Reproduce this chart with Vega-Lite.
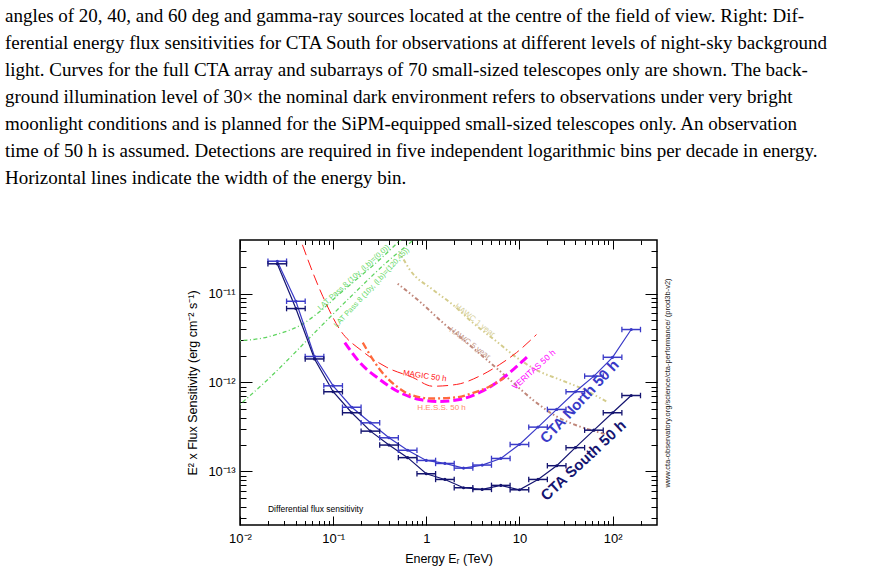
{
 "$schema": "https://vega.github.io/schema/vega-lite/v6.json",
 "width": 417,
 "height": 285,
 "autosize": {"type": "none"},
 "padding": {"left": 240, "top": 240, "right": 214, "bottom": 47},
 "background": "white",
 "title": {
  "text": [
   "angles of 20, 40, and 60 deg and gamma-ray sources located at the centre of the field of view.  Right: Dif-",
   "ferential energy flux sensitivities for CTA South for observations at different levels of night-sky background",
   "light.  Curves for the full CTA array and subarrays of 70 small-sized telescopes only are shown.  The back-",
   "ground illumination level of 30× the nominal dark environment refers to observations under very bright",
   "moonlight conditions and is planned for the SiPM-equipped small-sized telescopes only.  An observation",
   "time of 50 h is assumed. Detections are required in five independent logarithmic bins per decade in energy.",
   "Horizontal lines indicate the width of the energy bin."
  ],
  "anchor": "start",
  "frame": "group",
  "dx": -235,
  "offset": 52,
  "font": "Liberation Serif",
  "fontSize": 19,
  "fontWeight": "normal",
  "lineHeight": 27,
  "color": "black"
 },
 "config": {
  "view": {"stroke": "black", "strokeWidth": 1.5},
  "font": "Liberation Sans",
  "axis": {"grid": false, "domain": false, "tickColor": "black", "tickWidth": 1, "labelColor": "black", "titleColor": "black", "labelFont": "Liberation Sans", "titleFont": "Liberation Sans", "titleFontWeight": "normal", "labelOverlap": false, "labelFlush": false, "labelBound": false}
 },
 "datasets": {
  "cta": [
   {"series": "CTA North 50 h", "E": 0.02512, "S": 2.31e-11, "Elo": 0.01995, "Ehi": 0.03162},
   {"series": "CTA North 50 h", "E": 0.03981, "S": 8.19e-12, "Elo": 0.03162, "Ehi": 0.05012},
   {"series": "CTA North 50 h", "E": 0.0631, "S": 1.96e-12, "Elo": 0.05012, "Ehi": 0.07943},
   {"series": "CTA North 50 h", "E": 0.1, "S": 9.18e-13, "Elo": 0.07943, "Ehi": 0.1259},
   {"series": "CTA North 50 h", "E": 0.1585, "S": 5.27e-13, "Elo": 0.1259, "Ehi": 0.1995},
   {"series": "CTA North 50 h", "E": 0.2512, "S": 3.52e-13, "Elo": 0.1995, "Ehi": 0.3162},
   {"series": "CTA North 50 h", "E": 0.3981, "S": 2.39e-13, "Elo": 0.3162, "Ehi": 0.5012},
   {"series": "CTA North 50 h", "E": 0.631, "S": 1.73e-13, "Elo": 0.5012, "Ehi": 0.7943},
   {"series": "CTA North 50 h", "E": 1, "S": 1.33e-13, "Elo": 0.7943, "Ehi": 1.259},
   {"series": "CTA North 50 h", "E": 1.585, "S": 1.23e-13, "Elo": 1.259, "Ehi": 1.995},
   {"series": "CTA North 50 h", "E": 2.512, "S": 1.09e-13, "Elo": 1.995, "Ehi": 3.162},
   {"series": "CTA North 50 h", "E": 3.981, "S": 1.18e-13, "Elo": 3.162, "Ehi": 5.012},
   {"series": "CTA North 50 h", "E": 6.31, "S": 1.40e-13, "Elo": 5.012, "Ehi": 7.943},
   {"series": "CTA North 50 h", "E": 10, "S": 2.01e-13, "Elo": 7.943, "Ehi": 12.59},
   {"series": "CTA North 50 h", "E": 15.85, "S": 3.15e-13, "Elo": 12.59, "Ehi": 19.95},
   {"series": "CTA North 50 h", "E": 25.12, "S": 4.98e-13, "Elo": 19.95, "Ehi": 31.62},
   {"series": "CTA North 50 h", "E": 39.81, "S": 7.87e-13, "Elo": 31.62, "Ehi": 50.12},
   {"series": "CTA North 50 h", "E": 63.1, "S": 1.18e-12, "Elo": 50.12, "Ehi": 79.43},
   {"series": "CTA North 50 h", "E": 100, "S": 1.92e-12, "Elo": 79.43, "Ehi": 125.9},
   {"series": "CTA North 50 h", "E": 158.5, "S": 3.94e-12, "Elo": 125.9, "Ehi": 199.5},
   {"series": "CTA South 50 h", "E": 0.02512, "S": 2.16e-11, "Elo": 0.01995, "Ehi": 0.03162},
   {"series": "CTA South 50 h", "E": 0.03981, "S": 6.78e-12, "Elo": 0.03162, "Ehi": 0.05012},
   {"series": "CTA South 50 h", "E": 0.0631, "S": 1.84e-12, "Elo": 0.05012, "Ehi": 0.07943},
   {"series": "CTA South 50 h", "E": 0.1, "S": 7.87e-13, "Elo": 0.07943, "Ehi": 0.1259},
   {"series": "CTA South 50 h", "E": 0.1585, "S": 4.57e-13, "Elo": 0.1259, "Ehi": 0.1995},
   {"series": "CTA South 50 h", "E": 0.2512, "S": 2.84e-13, "Elo": 0.1995, "Ehi": 0.3162},
   {"series": "CTA South 50 h", "E": 0.3981, "S": 1.98e-13, "Elo": 0.3162, "Ehi": 0.5012},
   {"series": "CTA South 50 h", "E": 0.631, "S": 1.43e-13, "Elo": 0.5012, "Ehi": 0.7943},
   {"series": "CTA South 50 h", "E": 1, "S": 9.42e-14, "Elo": 0.7943, "Ehi": 1.259},
   {"series": "CTA South 50 h", "E": 1.585, "S": 8.13e-14, "Elo": 1.259, "Ehi": 1.995},
   {"series": "CTA South 50 h", "E": 2.512, "S": 6.56e-14, "Elo": 1.995, "Ehi": 3.162},
   {"series": "CTA South 50 h", "E": 3.981, "S": 6.28e-14, "Elo": 3.162, "Ehi": 5.012},
   {"series": "CTA South 50 h", "E": 6.31, "S": 6.97e-14, "Elo": 5.012, "Ehi": 7.943},
   {"series": "CTA South 50 h", "E": 10, "S": 6.22e-14, "Elo": 7.943, "Ehi": 12.59},
   {"series": "CTA South 50 h", "E": 15.85, "S": 8.13e-14, "Elo": 12.59, "Ehi": 19.95},
   {"series": "CTA South 50 h", "E": 25.12, "S": 1.16e-13, "Elo": 19.95, "Ehi": 31.62},
   {"series": "CTA South 50 h", "E": 39.81, "S": 1.85e-13, "Elo": 31.62, "Ehi": 50.12},
   {"series": "CTA South 50 h", "E": 63.1, "S": 2.91e-13, "Elo": 50.12, "Ehi": 79.43},
   {"series": "CTA South 50 h", "E": 100, "S": 4.57e-13, "Elo": 79.43, "Ehi": 125.9},
   {"series": "CTA South 50 h", "E": 158.5, "S": 7.14e-13, "Elo": 125.9, "Ehi": 199.5}
  ],
  "curves": [
   {"series": "LAT0", "E": 0.01, "S": 2.96e-12},
   {"series": "LAT0", "E": 0.01637, "S": 3.12e-12},
   {"series": "LAT0", "E": 0.02685, "S": 3.56e-12},
   {"series": "LAT0", "E": 0.04395, "S": 4.37e-12},
   {"series": "LAT0", "E": 0.07194, "S": 6.28e-12},
   {"series": "LAT0", "E": 0.118, "S": 1.0e-11},
   {"series": "LAT0", "E": 0.1932, "S": 1.55e-11},
   {"series": "LAT0", "E": 0.317, "S": 2.41e-11},
   {"series": "LAT0", "E": 0.4819, "S": 3.65e-11},
   {"series": "LAT0", "E": 0.6637, "S": 4.98e-11},
   {"series": "LAT120", "E": 0.01, "S": 5.66e-13},
   {"series": "LAT120", "E": 0.02099, "S": 1.14e-12},
   {"series": "LAT120", "E": 0.05623, "S": 3.21e-12},
   {"series": "LAT120", "E": 0.151, "S": 9.02e-12},
   {"series": "LAT120", "E": 0.4055, "S": 2.41e-11},
   {"series": "LAT120", "E": 0.7145, "S": 3.94e-11},
   {"series": "LAT120", "E": 0.9616, "S": 5.24e-11},
   {"series": "MAGIC", "E": 0.0408, "S": 5.24e-11},
   {"series": "MAGIC", "E": 0.07762, "S": 9.25e-12},
   {"series": "MAGIC", "E": 0.118, "S": 3.94e-12},
   {"series": "MAGIC", "E": 0.208, "S": 2.23e-12},
   {"series": "MAGIC", "E": 0.3767, "S": 1.48e-12},
   {"series": "MAGIC", "E": 0.7145, "S": 1.14e-12},
   {"series": "MAGIC", "E": 1.172, "S": 9.08e-13},
   {"series": "MAGIC", "E": 2.118, "S": 9.51e-13},
   {"series": "MAGIC", "E": 3.733, "S": 1.18e-12},
   {"series": "MAGIC", "E": 6.124, "S": 1.59e-12},
   {"series": "MAGIC", "E": 9.311, "S": 2.17e-12},
   {"series": "MAGIC", "E": 15.24, "S": 3.46e-12},
   {"series": "HESS", "E": 0.208, "S": 2.81e-12},
   {"series": "HESS", "E": 0.317, "S": 1.40e-12},
   {"series": "HESS", "E": 0.4819, "S": 9.01e-13},
   {"series": "HESS", "E": 0.7145, "S": 7.14e-13},
   {"series": "HESS", "E": 1.172, "S": 6.61e-13},
   {"series": "HESS", "E": 2.014, "S": 6.78e-13},
   {"series": "HESS", "E": 3.304, "S": 7.73e-13},
   {"series": "HESS", "E": 5.023, "S": 9.25e-13},
   {"series": "HESS", "E": 6.918, "S": 1.14e-12},
   {"series": "VERITAS", "E": 0.1334, "S": 2.81e-12},
   {"series": "VERITAS", "E": 0.1932, "S": 1.68e-12},
   {"series": "VERITAS", "E": 0.317, "S": 1.08e-12},
   {"series": "VERITAS", "E": 0.5188, "S": 7.73e-13},
   {"series": "VERITAS", "E": 0.8492, "S": 6.44e-13},
   {"series": "VERITAS", "E": 1.393, "S": 6.12e-13},
   {"series": "VERITAS", "E": 2.28, "S": 6.44e-13},
   {"series": "VERITAS", "E": 3.733, "S": 7.73e-13},
   {"series": "VERITAS", "E": 6.124, "S": 1.05e-12},
   {"series": "VERITAS", "E": 8.872, "S": 1.44e-12},
   {"series": "VERITAS", "E": 12.22, "S": 1.96e-12},
   {"series": "HAWC1", "E": 0.5188, "S": 2.89e-11},
   {"series": "HAWC1", "E": 0.6637, "S": 1.86e-11},
   {"series": "HAWC1", "E": 1.172, "S": 1.11e-11},
   {"series": "HAWC1", "E": 1.919, "S": 7.52e-12},
   {"series": "HAWC1", "E": 3.141, "S": 4.72e-12},
   {"series": "HAWC1", "E": 5.689, "S": 2.89e-12},
   {"series": "HAWC1", "E": 9.311, "S": 1.91e-12},
   {"series": "HAWC1", "E": 16.41, "S": 1.33e-12},
   {"series": "HAWC1", "E": 26.92, "S": 1.08e-12},
   {"series": "HAWC1", "E": 44.06, "S": 8.79e-13},
   {"series": "HAWC1", "E": 85.9, "S": 6.12e-13},
   {"series": "HAWC5", "E": 0.4932, "S": 1.29e-11},
   {"series": "HAWC5", "E": 0.8492, "S": 8.13e-12},
   {"series": "HAWC5", "E": 1.5, "S": 4.72e-12},
   {"series": "HAWC5", "E": 2.71, "S": 2.81e-12},
   {"series": "HAWC5", "E": 4.436, "S": 1.81e-12},
   {"series": "HAWC5", "E": 7.834, "S": 1.08e-12},
   {"series": "HAWC5", "E": 13.8, "S": 6.44e-13},
   {"series": "HAWC5", "E": 25.0, "S": 4.15e-13},
   {"series": "HAWC5", "E": 44.06, "S": 3.21e-13},
   {"series": "HAWC5", "E": 72.3, "S": 2.74e-13},
   {"series": "HAWC5", "E": 85.9, "S": 2.61e-13}
  ],
  "labels": [
   {"series": "LAT Pass 8 (10y, (l,b)=(0,0))", "E": 0.1667, "S": 1.51e-11},
   {"series": "LAT Pass 8 (10y, (l,b)=(120,45))", "E": 0.26, "S": 1.17e-11},
   {"series": "MAGIC 50 h", "E": 0.962, "S": 1.17e-12},
   {"series": "H.E.S.S. 50 h", "E": 1.46, "S": 5.23e-13},
   {"series": "VERITAS 50 h", "E": 14.2, "S": 1.40e-12},
   {"series": "HAWC 1 year", "E": 3.3, "S": 4.97e-12},
   {"series": "HAWC 5 year", "E": 2.92, "S": 2.74e-12},
   {"series": "CTA North 50 h", "E": 44.1, "S": 6.12e-13},
   {"series": "CTA South 50 h", "E": 48.6, "S": 1.33e-13},
   {"series": "Differential flux sensitivity", "E": 0.01995, "S": 3.74e-14}
  ]
 },
 "resolve": {"axis": {"x": "independent", "y": "independent"}},
 "layer": [
  {
   "data": {"name": "curves"},
   "transform": [{"filter": "datum.series == 'LAT0'"}],
   "mark": {"type": "line", "clip": true, "interpolate": "monotone", "color": "#5fd45f", "strokeWidth": 1.3, "strokeDash": [1, 2.5, 4, 2.5]},
   "encoding": {
    "x": {"field": "E", "type": "quantitative", "scale": {"type": "log", "domain": [0.01, 300], "nice": false}, "axis": null},
    "y": {"field": "S", "type": "quantitative", "scale": {"type": "log", "domain": [2.5e-14, 4e-11], "nice": false}, "axis": null}
   }
  },
  {
   "data": {"name": "curves"},
   "transform": [{"filter": "datum.series == 'LAT120'"}],
   "mark": {"type": "line", "clip": true, "interpolate": "monotone", "color": "#5fd45f", "strokeWidth": 1.3, "strokeDash": [1, 2.5, 4, 2.5]},
   "encoding": {
    "x": {"field": "E", "type": "quantitative", "axis": null},
    "y": {"field": "S", "type": "quantitative", "axis": null}
   }
  },
  {
   "data": {"name": "curves"},
   "transform": [{"filter": "datum.series == 'HAWC1'"}],
   "mark": {"type": "line", "clip": true, "interpolate": "monotone", "color": "#d4cc8c", "strokeWidth": 2, "strokeDash": [1.5, 2.5, 1.5, 2.5, 4, 2.5]},
   "encoding": {
    "x": {"field": "E", "type": "quantitative", "axis": null},
    "y": {"field": "S", "type": "quantitative", "axis": null}
   }
  },
  {
   "data": {"name": "curves"},
   "transform": [{"filter": "datum.series == 'HAWC5'"}],
   "mark": {"type": "line", "clip": true, "interpolate": "monotone", "color": "#c0877a", "strokeWidth": 2, "strokeDash": [1.5, 2.5, 1.5, 2.5, 4, 2.5]},
   "encoding": {
    "x": {"field": "E", "type": "quantitative", "axis": null},
    "y": {"field": "S", "type": "quantitative", "axis": null}
   }
  },
  {
   "data": {"name": "curves"},
   "transform": [{"filter": "datum.series == 'MAGIC'"}],
   "mark": {"type": "line", "clip": true, "interpolate": "monotone", "color": "#ff1a1a", "strokeWidth": 1, "strokeDash": [11, 5]},
   "encoding": {
    "x": {"field": "E", "type": "quantitative", "axis": null},
    "y": {"field": "S", "type": "quantitative", "axis": null}
   }
  },
  {
   "data": {"name": "curves"},
   "transform": [{"filter": "datum.series == 'VERITAS'"}],
   "mark": {"type": "line", "clip": true, "interpolate": "monotone", "color": "#ff00ff", "strokeWidth": 3, "strokeDash": [9, 4]},
   "encoding": {
    "x": {"field": "E", "type": "quantitative", "axis": null},
    "y": {"field": "S", "type": "quantitative", "axis": null}
   }
  },
  {
   "data": {"name": "curves"},
   "transform": [{"filter": "datum.series == 'HESS'"}],
   "mark": {"type": "line", "clip": true, "interpolate": "monotone", "color": "#ff6a3d", "strokeWidth": 2.3, "strokeDash": [7, 3, 2, 3]},
   "encoding": {
    "x": {"field": "E", "type": "quantitative", "axis": null},
    "y": {"field": "S", "type": "quantitative", "axis": null}
   }
  },
  {
   "data": {"name": "cta"},
   "mark": {"type": "line", "clip": true, "strokeWidth": 1.2},
   "encoding": {
    "x": {"field": "E", "type": "quantitative",
     "axis": {
      "orient": "bottom",
      "values": [0.01,0.02,0.03,0.04,0.05,0.06,0.07,0.08,0.09,0.1,0.2,0.3,0.4,0.5,0.6,0.7,0.8,0.9,1,2,3,4,5,6,7,8,9,10,20,30,40,50,60,70,80,90,100,200],
      "labelExpr": "datum.value == 0.01 ? '10⁻²' : datum.value == 0.1 ? '10⁻¹' : datum.value == 1 ? '1' : datum.value == 10 ? '10' : datum.value == 100 ? '10²' : ''",
      "tickSize": {"condition": {"test": "datum.value == 0.01 || datum.value == 0.1 || datum.value == 1 || datum.value == 10 || datum.value == 100", "value": -9}, "value": -4.5},
      "labelPadding": 16,
      "labelFontSize": 13,
      "title": "Energy Eᵣ (TeV)",
      "titleFontSize": 12.5,
      "titlePadding": 3
     }
    },
    "y": {"field": "S", "type": "quantitative",
     "axis": {
      "orient": "left",
      "values": [3e-14,4e-14,5e-14,6e-14,7e-14,8e-14,9e-14,1e-13,2e-13,3e-13,4e-13,5e-13,6e-13,7e-13,8e-13,9e-13,1e-12,2e-12,3e-12,4e-12,5e-12,6e-12,7e-12,8e-12,9e-12,1e-11,2e-11,3e-11],
      "labelExpr": "datum.value == 1e-11 ? '10⁻¹¹' : datum.value == 1e-12 ? '10⁻¹²' : datum.value == 1e-13 ? '10⁻¹³' : ''",
      "tickSize": {"condition": {"test": "datum.value == 1e-11 || datum.value == 1e-12 || datum.value == 1e-13", "value": -12}, "value": -6},
      "labelPadding": 17,
      "labelFontSize": 13,
      "title": "E² x Flux Sensitivity (erg cm⁻² s⁻¹)",
      "titleFontSize": 12.5,
      "titlePadding": 8
     }
    },
    "color": {"field": "series", "type": "nominal", "scale": {"domain": ["CTA North 50 h", "CTA South 50 h"], "range": ["#3a3ac8", "#141470"]}, "legend": null}
   }
  },
  {
   "data": {"name": "cta"},
   "mark": {"type": "rule", "strokeWidth": 1.5},
   "encoding": {
    "x": {"field": "Elo", "type": "quantitative",
     "axis": {
      "orient": "top",
      "values": [0.01,0.02,0.03,0.04,0.05,0.06,0.07,0.08,0.09,0.1,0.2,0.3,0.4,0.5,0.6,0.7,0.8,0.9,1,2,3,4,5,6,7,8,9,10,20,30,40,50,60,70,80,90,100,200],
      "labels": false,
      "tickSize": {"condition": {"test": "datum.value == 0.01 || datum.value == 0.1 || datum.value == 1 || datum.value == 10 || datum.value == 100", "value": -9}, "value": -4.5},
      "title": null
     }
    },
    "x2": {"field": "Ehi"},
    "y": {"field": "S", "type": "quantitative",
     "axis": {
      "orient": "right",
      "values": [3e-14,4e-14,5e-14,6e-14,7e-14,8e-14,9e-14,1e-13,2e-13,3e-13,4e-13,5e-13,6e-13,7e-13,8e-13,9e-13,1e-12,2e-12,3e-12,4e-12,5e-12,6e-12,7e-12,8e-12,9e-12,1e-11,2e-11,3e-11],
      "labels": false,
      "tickSize": {"condition": {"test": "datum.value == 1e-11 || datum.value == 1e-12 || datum.value == 1e-13", "value": -12}, "value": -6},
      "title": "www.cta-observatory.org/science/cta-performance/ (prod3b-v2)",
      "titleAngle": 270,
      "titleFontSize": 7.5,
      "titleColor": "#222222",
      "titlePadding": 14
     }
    },
    "color": {"field": "series", "type": "nominal", "legend": null}
   }
  },
  {
   "data": {"name": "cta"},
   "mark": {"type": "point", "shape": "M0,-1L0,1", "filled": false, "size": 30, "strokeWidth": 1.3, "opacity": 1},
   "encoding": {
    "x": {"field": "Elo", "type": "quantitative", "axis": null},
    "y": {"field": "S", "type": "quantitative", "axis": null},
    "color": {"field": "series", "type": "nominal", "legend": null}
   }
  },
  {
   "data": {"name": "cta"},
   "mark": {"type": "point", "shape": "M0,-1L0,1", "filled": false, "size": 30, "strokeWidth": 1.3, "opacity": 1},
   "encoding": {
    "x": {"field": "Ehi", "type": "quantitative", "axis": null},
    "y": {"field": "S", "type": "quantitative", "axis": null},
    "color": {"field": "series", "type": "nominal", "legend": null}
   }
  },
  {
   "data": {"name": "cta"},
   "mark": {"type": "point", "filled": true, "size": 10, "opacity": 1},
   "encoding": {
    "x": {"field": "E", "type": "quantitative", "axis": null},
    "y": {"field": "S", "type": "quantitative", "axis": null},
    "color": {"field": "series", "type": "nominal", "legend": null}
   }
  },
  {
   "data": {"name": "labels"},
   "transform": [{"filter": "datum.series == 'LAT Pass 8 (10y, (l,b)=(0,0))'"}],
   "mark": {"type": "text", "angle": -42, "color": "#66d866", "fontSize": 7.5, "font": "Liberation Sans"},
   "encoding": {"x": {"field": "E", "type": "quantitative", "axis": null}, "y": {"field": "S", "type": "quantitative", "axis": null}, "text": {"field": "series"}}
  },
  {
   "data": {"name": "labels"},
   "transform": [{"filter": "datum.series == 'LAT Pass 8 (10y, (l,b)=(120,45))'"}],
   "mark": {"type": "text", "angle": -47, "color": "#66d866", "fontSize": 7.5, "font": "Liberation Sans"},
   "encoding": {"x": {"field": "E", "type": "quantitative", "axis": null}, "y": {"field": "S", "type": "quantitative", "axis": null}, "text": {"field": "series"}}
  },
  {
   "data": {"name": "labels"},
   "transform": [{"filter": "datum.series == 'MAGIC 50 h'"}],
   "mark": {"type": "text", "angle": 8, "color": "#ff2020", "fontSize": 8, "font": "Liberation Sans"},
   "encoding": {"x": {"field": "E", "type": "quantitative", "axis": null}, "y": {"field": "S", "type": "quantitative", "axis": null}, "text": {"field": "series"}}
  },
  {
   "data": {"name": "labels"},
   "transform": [{"filter": "datum.series == 'H.E.S.S. 50 h'"}],
   "mark": {"type": "text", "angle": 0, "color": "#ff8a66", "fontSize": 8, "font": "Liberation Sans"},
   "encoding": {"x": {"field": "E", "type": "quantitative", "axis": null}, "y": {"field": "S", "type": "quantitative", "axis": null}, "text": {"field": "series"}}
  },
  {
   "data": {"name": "labels"},
   "transform": [{"filter": "datum.series == 'VERITAS 50 h'"}],
   "mark": {"type": "text", "angle": -42, "color": "#ff00ff", "fontSize": 8.5, "font": "Liberation Sans"},
   "encoding": {"x": {"field": "E", "type": "quantitative", "axis": null}, "y": {"field": "S", "type": "quantitative", "axis": null}, "text": {"field": "series"}}
  },
  {
   "data": {"name": "labels"},
   "transform": [{"filter": "datum.series == 'HAWC 1 year'"}],
   "mark": {"type": "text", "angle": 38, "color": "#d6cf9a", "fontSize": 8, "font": "Liberation Sans"},
   "encoding": {"x": {"field": "E", "type": "quantitative", "axis": null}, "y": {"field": "S", "type": "quantitative", "axis": null}, "text": {"field": "series"}}
  },
  {
   "data": {"name": "labels"},
   "transform": [{"filter": "datum.series == 'HAWC 5 year'"}],
   "mark": {"type": "text", "angle": 36, "color": "#c49a8a", "fontSize": 8, "font": "Liberation Sans"},
   "encoding": {"x": {"field": "E", "type": "quantitative", "axis": null}, "y": {"field": "S", "type": "quantitative", "axis": null}, "text": {"field": "series"}}
  },
  {
   "data": {"name": "labels"},
   "transform": [{"filter": "datum.series == 'CTA North 50 h'"}],
   "mark": {"type": "text", "angle": -47, "color": "#3a3ac8", "fontSize": 15, "fontWeight": "bold", "font": "Liberation Sans"},
   "encoding": {"x": {"field": "E", "type": "quantitative", "axis": null}, "y": {"field": "S", "type": "quantitative", "axis": null}, "text": {"field": "series"}}
  },
  {
   "data": {"name": "labels"},
   "transform": [{"filter": "datum.series == 'CTA South 50 h'"}],
   "mark": {"type": "text", "angle": -43, "color": "#141470", "fontSize": 15, "fontWeight": "bold", "font": "Liberation Sans"},
   "encoding": {"x": {"field": "E", "type": "quantitative", "axis": null}, "y": {"field": "S", "type": "quantitative", "axis": null}, "text": {"field": "series"}}
  },
  {
   "data": {"name": "labels"},
   "transform": [{"filter": "datum.series == 'Differential flux sensitivity'"}],
   "mark": {"type": "text", "align": "left", "color": "black", "fontSize": 8.5, "font": "Liberation Sans"},
   "encoding": {"x": {"field": "E", "type": "quantitative", "axis": null}, "y": {"field": "S", "type": "quantitative", "axis": null}, "text": {"field": "series"}}
  }
 ]
}
